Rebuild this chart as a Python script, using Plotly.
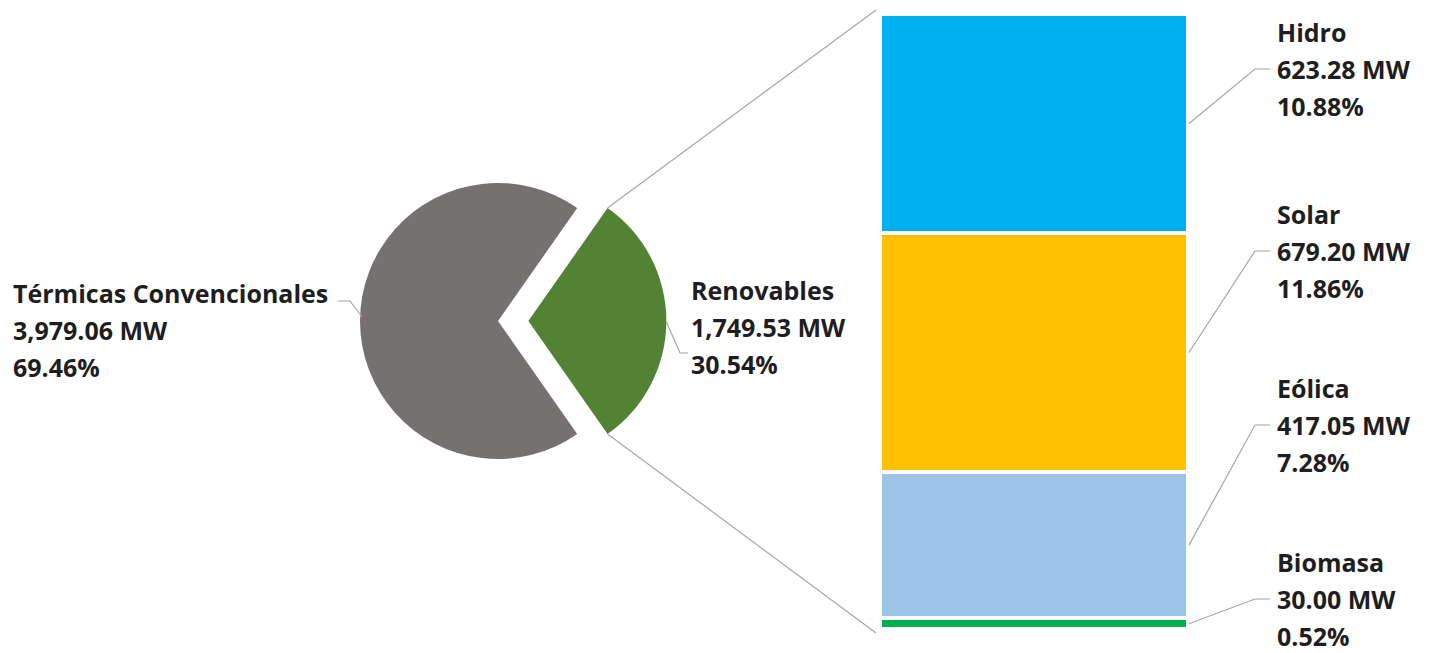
import math
import plotly.graph_objects as go

# ---------------- data ----------------
main_labels = ["Renovables", "Térmicas Convencionales"]
main_values = [1749.53, 3979.06]
main_pcts = ["30.54%", "69.46%"]
main_colors = ["#548235", "#767171"]

sub_labels = ["Biomasa", "Eólica", "Solar", "Hidro"]          # bottom -> top
sub_values = [30.00, 417.05, 679.20, 623.28]
sub_pcts = ["0.52%", "7.28%", "11.86%", "10.88%"]
sub_colors = ["#00B050", "#9DC3E6", "#FFC000", "#00B0F0"]

# ---------------- layout constants (pixels) ----------------
W, H = 1430, 653
PIE_CX, PIE_CY, PIE_R, PULL = 498, 321, 138, 0.22
BAR_X0, BAR_X1, BAR_TOP, BAR_BOT = 882, 1186, 16, 627
LW = 4  # white separator between stacked segments
FONT = dict(family="Open Sans", size=25, color="#1E1E1E", weight=700)
LINE_H = 37
LEADER = "#A6A6A6"


def px(x):
    return x / W


def py(y):
    return 1 - y / H


fig = go.Figure()

# ---------------- pie ----------------
total_main = sum(main_values)
frac_ren = main_values[0] / total_main
rotation = 90 - 180 * frac_ren
half = PIE_R * (1 + PULL)
fig.add_trace(go.Pie(
    labels=main_labels, values=main_values, sort=False, direction="clockwise",
    rotation=rotation, pull=[PULL, 0], textinfo="none",
    marker=dict(colors=main_colors, line=dict(width=0)),
    domain=dict(x=[px(PIE_CX - half), px(PIE_CX + half)],
                y=[py(PIE_CY + half), py(PIE_CY - half)]),
    showlegend=False, hoverinfo="label+value+percent",
))

# ---------------- stacked bar ----------------
total_sub = sum(sub_values)
for lab, v, c in zip(sub_labels, sub_values, sub_colors):
    fig.add_trace(go.Bar(
        x=[0], y=[v], name=lab, width=1, marker=dict(color=c, line=dict(color="white", width=LW)),
        xaxis="x", yaxis="y", showlegend=False, hovertemplate=lab + ": %{y:,.2f} MW<extra></extra>",
    ))

bx0, bx1 = BAR_X0 - LW / 2, BAR_X1 + LW / 2
by0, by1 = BAR_TOP - LW / 2, BAR_BOT + LW / 2


def bar_y(v):
    return by1 - v / total_sub * (by1 - by0)


shapes = []
annotations = []


def path(points):
    d = "M " + " L ".join(f"{px(x):.5f},{py(y):.5f}" for x, y in points)
    shapes.append(dict(type="path", path=d, xref="paper", yref="paper",
                       line=dict(color=LEADER, width=1.2)))


def label(x, y_first, lines):
    for i, t in enumerate(lines):
        annotations.append(dict(
            x=px(x), y=py(y_first + i * LINE_H), xref="paper", yref="paper", text=t,
            showarrow=False, xanchor="left", yanchor="middle", font=FONT, borderpad=0))


# connector lines pie -> bar
apex_x = PIE_CX + PIE_R * PULL
a_top = math.radians(90 - 180 * frac_ren)
a_bot = math.radians(90 + 180 * frac_ren)
top_pt = (apex_x + PIE_R * math.sin(a_top), PIE_CY - PIE_R * math.cos(a_top))
bot_pt = (apex_x + PIE_R * math.sin(a_bot), PIE_CY - PIE_R * math.cos(a_bot))
path([top_pt, (bx0 - 4, by0 - 4)])
path([bot_pt, (bx0 - 4, by1 + 4)])

# main labels
label(12, 293, [main_labels[1], f"{main_values[1]:,.2f} MW", main_pcts[1]])
path([(338, 301), (350, 301), (PIE_CX - PIE_R + 2, PIE_CY - 4)])

label(690, 290, [main_labels[0], f"{main_values[0]:,.2f} MW", main_pcts[0]])
path([(apex_x + PIE_R, PIE_CY + 1), (680, 353), (688, 353)])

# sub labels
first_line_y = {"Hidro": 32, "Solar": 214, "Eólica": 388, "Biomasa": 562}
cum = 0
for lab, v, pct in zip(sub_labels, sub_values, sub_pcts):
    mid = bar_y(cum + v / 2)
    cum += v
    y1 = first_line_y[lab]
    label(1276, y1, [lab, f"{v:,.2f} MW", pct])
    ly = y1 + LINE_H
    path([(bx1 + 1, mid), (1255, ly), (1270, ly)])

fig.update_layout(
    width=W, height=H, margin=dict(l=0, r=0, t=0, b=0),
    paper_bgcolor="white", plot_bgcolor="white",
    barmode="stack", bargap=0,
    xaxis=dict(domain=[px(bx0), px(bx1)], range=[-0.5, 0.5], visible=False, fixedrange=True),
    yaxis=dict(domain=[py(by1), py(by0)], range=[0, total_sub], visible=False, fixedrange=True),
    shapes=shapes, annotations=annotations,
)

fig.write_html("out.html")
